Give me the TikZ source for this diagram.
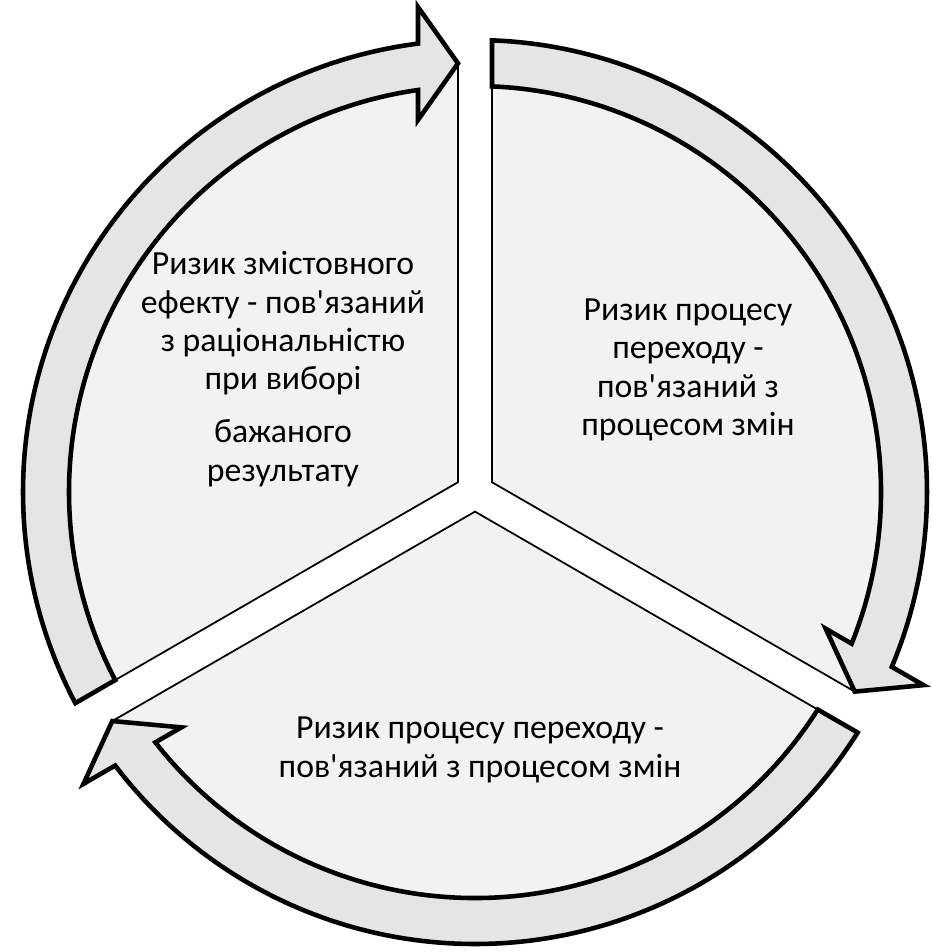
\documentclass[tikz,border=0pt]{standalone}
\usepackage{fontspec}
\setmainfont{Carlito}
\usepackage{tikz}

\tikzset{
	segment/.style={fill=black!5,draw=black,line width=1pt},
	band/.style={fill=black!10,draw=black,line width=2.6pt,line join=miter},
	risktext/.style={align=center,font=\fontsize{19.2}{21.8}\selectfont}
}

\begin{document}
\begin{tikzpicture}
	\useasboundingbox (-9.5,-9.2) rectangle (9.14,9.84);
	% pie segments
	\draw[segment] (-0.3395,0.196) -- (-0.34,8.573) arc[start angle=92.27,end angle=207.73,radius=8.58] -- cycle;
	\draw[segment,rotate=-120] (-0.3395,0.196) -- (-0.34,8.573) arc[start angle=92.27,end angle=207.73,radius=8.58] -- cycle;
	\draw[segment,rotate=120] (-0.3395,0.196) -- (-0.34,8.573) arc[start angle=92.27,end angle=207.73,radius=8.58] -- cycle;
	% circular arrows
	\draw[band] (207.845:9.04) arc[start angle=207.845,end angle=97.24,radius=9.04] -- (-1.14,9.7) -- (-0.34,8.573) -- (-1.14,7.44) -- (-1.14,8.040) arc[start angle=98.07,end angle=207.6,radius=8.12] -- cycle;
	\draw[band,rotate=-120] (207.845:9.04) arc[start angle=207.845,end angle=97.24,radius=9.04] -- (-1.14,9.7) -- (-0.34,8.573) -- (-1.14,7.44) -- (-1.14,8.040) arc[start angle=98.07,end angle=207.6,radius=8.12] -- cycle;
	\draw[band,rotate=120] (207.845:9.04) arc[start angle=207.845,end angle=97.24,radius=9.04] -- (-1.14,9.7) -- (-0.34,8.573) -- (-1.14,7.44) -- (-1.14,8.040) arc[start angle=98.07,end angle=207.6,radius=8.12] -- cycle;
	% texts
	\node[risktext] (content) at (-3.84,2.46) {Ризик змістовного\\ефекту - пов\textquotesingle язаний\\з раціональністю\\при виборі\\[8.4pt]бажаного\\результату};
	\node[risktext] (process) at (4.26,2.44) {Ризик процесу\\переходу -\\пов\textquotesingle язаний з\\процесом змін};
	\node[risktext] (transition) at (0.1,-5.16) {Ризик процесу переходу -\\пов\textquotesingle язаний з процесом змін};
\end{tikzpicture}
\end{document}
